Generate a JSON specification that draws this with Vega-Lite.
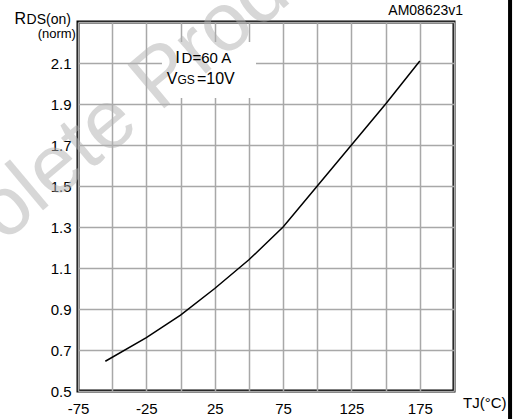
{
  "$schema": "https://vega.github.io/schema/vega-lite/v6.json",
  "width": 376,
  "height": 369,
  "autosize": {"type": "none"},
  "padding": {"left": 78, "top": 22, "right": 68, "bottom": 28},
  "background": "white",
  "config": {
    "view": {"stroke": "black", "strokeWidth": 3},
    "font": "Liberation Sans",
    "axis": {
      "domain": false,
      "ticks": false,
      "tickSize": 0,
      "grid": true,
      "gridColor": "#a8a8a8",
      "gridWidth": 1.5,
      "gridOpacity": 1,
      "labelFont": "Liberation Sans",
      "labelFontSize": 15,
      "labelColor": "black"
    },
    "text": {"font": "Liberation Sans", "color": "black", "baseline": "alphabetic"}
  },
  "layer": [
    {
      "data": {"values": [{}]},
      "mark": {"type": "rect", "fill": "white", "stroke": null},
      "encoding": {
        "x": {"datum": -13.6, "type": "quantitative", "title": null, "scale": {"domain": [-75, 200], "nice": false, "zero": false},
          "axis": {"grid": true, "tickCount": 30, "values": [-75, -50, -25, 0, 25, 50, 75, 100, 125, 150, 175, 200], "labelExpr": "'' + datum.value", "labelOpacity": {"condition": {"test": "(datum.value + 75) % 50 == 0 && datum.value < 200", "value": 1}, "value": 0}, "labelPadding": 10, "title": null, "labelFlush": false, "labelOverlap": false}},
        "x2": {"datum": 55.2},
        "y": {"datum": 2.202, "type": "quantitative", "title": null, "scale": {"domain": [0.5, 2.3], "nice": false, "zero": false},
          "axis": {"grid": true, "tickCount": 30, "values": [0.5, 0.7, 0.9, 1.1, 1.3, 1.5, 1.7, 1.9, 2.1, 2.3], "labelExpr": "format(datum.value, '.1f')", "labelOpacity": {"condition": {"test": "datum.value < 2.2", "value": 1}, "value": 0}, "labelPadding": 7, "title": null, "labelFlush": false, "labelOverlap": false}},
        "y2": {"datum": 1.929}
      }
    },
    {
      "data": {"values": [{}]},
      "mark": {"type": "text", "text": "Obsolete Product(s)", "align": "center", "baseline": "alphabetic", "angle": -40, "fontSize": 83, "fill": "#b0b0b0", "opacity": 0.5},
      "encoding": {"x": {"datum": -8.0, "title": null}, "y": {"datum": 1.9, "title": null}}
    },
    {
      "data": {"values": [
        {"t": -55, "r": 0.645},
        {"t": -25, "r": 0.76},
        {"t": 0, "r": 0.87},
        {"t": 25, "r": 1.0},
        {"t": 50, "r": 1.14},
        {"t": 75, "r": 1.3},
        {"t": 100, "r": 1.5},
        {"t": 125, "r": 1.7},
        {"t": 150, "r": 1.9},
        {"t": 175, "r": 2.11}
      ]},
      "mark": {"type": "line", "color": "black", "strokeWidth": 1.5},
      "encoding": {
        "x": {"field": "t", "type": "quantitative", "title": null},
        "y": {"field": "r", "type": "quantitative", "title": null}
      }
    },
    {
      "data": {"values": [{}]},
      "mark": {"type": "text", "text": "I", "align": "right", "fontSize": 17, "dx": -0.5},
      "encoding": {"x": {"datum": 0, "title": null}, "y": {"datum": 2.1, "title": null}}
    },
    {
      "data": {"values": [{}]},
      "mark": {"type": "text", "text": "D=60 A", "align": "left", "fontSize": 15, "dx": 1},
      "encoding": {"x": {"datum": 0, "title": null}, "y": {"datum": 2.1, "title": null}}
    },
    {
      "data": {"values": [{}]},
      "mark": {"type": "text", "text": "V", "align": "right", "fontSize": 16},
      "encoding": {"x": {"datum": -2.2, "title": null}, "y": {"datum": 2.0, "title": null}}
    },
    {
      "data": {"values": [{}]},
      "mark": {"type": "text", "text": "GS", "align": "left", "fontSize": 12},
      "encoding": {"x": {"datum": -2.2, "title": null}, "y": {"datum": 2.0, "title": null}}
    },
    {
      "data": {"values": [{}]},
      "mark": {"type": "text", "text": "=10V", "align": "left", "fontSize": 16},
      "encoding": {"x": {"datum": 12.0, "title": null}, "y": {"datum": 2.0, "title": null}}
    },
    {
      "data": {"values": [{}]},
      "mark": {"type": "text", "text": "R", "align": "right", "fontSize": 16},
      "encoding": {"x": {"datum": -113.0, "title": null}, "y": {"datum": 2.29, "title": null}}
    },
    {
      "data": {"values": [{}]},
      "mark": {"type": "text", "text": "DS(on)", "align": "left", "fontSize": 14, "dx": 0.5},
      "encoding": {"x": {"datum": -113.0, "title": null}, "y": {"datum": 2.29, "title": null}}
    },
    {
      "data": {"values": [{}]},
      "mark": {"type": "text", "text": "(norm)", "align": "right", "fontSize": 13},
      "encoding": {"x": {"datum": -76.5, "title": null}, "y": {"datum": 2.222, "title": null}}
    },
    {
      "data": {"values": [{}]},
      "mark": {"type": "text", "text": "TJ(°C)", "align": "left", "fontSize": 15},
      "encoding": {"x": {"datum": 206.6, "title": null}, "y": {"datum": 0.417, "title": null}}
    },
    {
      "data": {"values": [{}]},
      "mark": {"type": "text", "text": "AM08623v1", "align": "right", "fontSize": 14},
      "encoding": {"x": {"datum": 206.6, "title": null}, "y": {"datum": 2.334, "title": null}}
    },
    {
      "data": {"values": [{}]},
      "mark": {"type": "rule", "color": "black", "strokeWidth": 4},
      "encoding": {"x": {"datum": 241, "title": null}, "y": {"datum": 2.42, "title": null}, "y2": {"datum": 0.35}}
    }
  ]
}
